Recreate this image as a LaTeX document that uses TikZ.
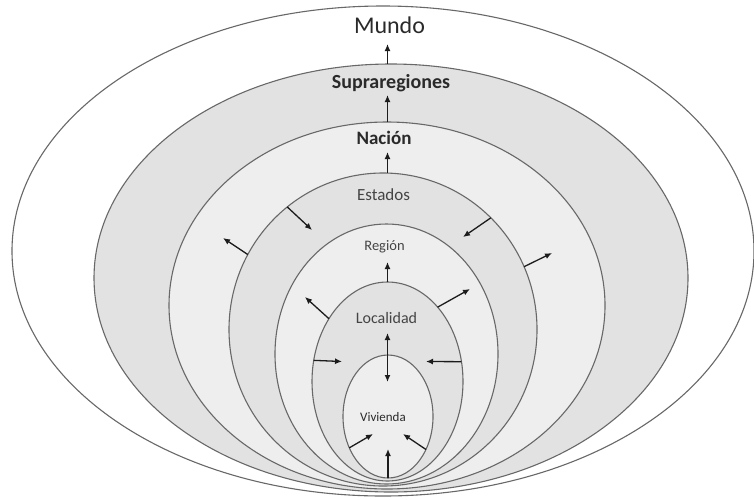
\documentclass[tikz,border=0pt]{standalone}
\usepackage{fontspec}
\setmainfont{Carlito}
\usetikzlibrary{shapes.geometric,arrows.meta}
\definecolor{ringline}{HTML}{686868}
\definecolor{bandA}{HTML}{E2E2E2}
\definecolor{bandB}{HTML}{EEEEEE}
\definecolor{ink}{HTML}{1C1C1C}
\definecolor{labdark}{HTML}{2A2A2A}
\definecolor{labgray}{HTML}{444444}

\begin{document}
\begin{tikzpicture}[x=1pt,y=-1pt,
  ring/.style={ellipse, draw=ringline, line width=1.1pt, inner sep=0pt, outer sep=0pt},
  lab/.style={inner sep=0pt, anchor=base},
  flow/.style={draw=ink, line width=1.3pt, -{Latex[length=7pt,width=6pt]}},
  flowboth/.style={draw=ink, line width=1.5pt, {Latex[length=7pt,width=6pt]}-{Latex[length=7pt,width=6pt]}}
]
\useasboundingbox (0,0) rectangle (754,499);
\fill[white] (0,0) rectangle (754,499);

% nested levels, outermost first
\node[ring, fill=white, minimum width=742pt, minimum height=490pt] (mundo) at (383,251) {};
\node[ring, fill=bandA, minimum width=594pt, minimum height=428pt] (supra) at (391,278) {};
\node[ring, fill=bandB, minimum width=436pt, minimum height=367pt] (nacion) at (387,305.5) {};
\node[ring, fill=bandA, minimum width=308pt, minimum height=313pt] (estados) at (383,329.5) {};
\node[ring, fill=bandB, minimum width=223pt, minimum height=260pt] (region) at (386.5,354) {};
\node[ring, fill=bandA, minimum width=151pt, minimum height=199pt] (localidad) at (387.5,381.5) {};
\node[ring, fill=bandB, minimum width=90pt, minimum height=123pt] (vivienda) at (388,416.5) {};

% level names
\node[lab, text=labdark] (tMundo) at (389.5,33.3) {\fontsize{24}{24}\selectfont Mundo};
\node[lab, text=labdark] (tSupra) at (391,88) {\fontsize{20}{20}\selectfont\bfseries Supraregiones};
\node[lab, text=labdark] (tNacion) at (384,144.3) {\fontsize{19}{19}\selectfont\bfseries Nación};
\node[lab, text=labgray] (tEstados) at (383.5,200) {\fontsize{17}{17}\selectfont Estados};
\node[lab, text=labgray] (tRegion) at (384.5,250) {\fontsize{14.5}{14.5}\selectfont Región};
\node[lab, text=labgray] (tLocalidad) at (386.5,323.3) {\fontsize{16}{16}\selectfont Localidad};
\node[lab, text=labdark] (tVivienda) at (383,421.7) {\fontsize{13}{13}\selectfont Vivienda};

% arrow tips
\coordinate (aMundo) at (387.5,44);
\coordinate (aSupra) at (387.5,95);
\coordinate (aNacion) at (387.5,152);
\coordinate (aRegion) at (387.5,262);
\coordinate (eInL) at (312,230);
\coordinate (eInR) at (463,237);
\coordinate (eOutL) at (223,238);
\coordinate (eOutR) at (552,253);
\coordinate (lOutL) at (305,297);
\coordinate (lOutR) at (470,289);
\coordinate (lInL) at (342,361.5);
\coordinate (lInR) at (426,361.5);
\coordinate (dTop) at (387.5,333);
\coordinate (dBot) at (387.5,382);
\coordinate (vInL) at (373,434);
\coordinate (vInR) at (403,434);
\coordinate (vUp) at (388,449);

% upward growth from each level to the next
\draw[flow] (supra.north -| aMundo) -- (aMundo);
\draw[flow] (nacion.north -| aSupra) -- (aSupra);
\draw[flow] (estados.north -| aNacion) -- (aNacion);
\draw[flow] (localidad.north -| aRegion) -- (aRegion);

% exchanges across the state boundary
\draw[flow] (estados.128) -- (eInL);
\draw[flow] (estados.46) -- (eInR);
\draw[flow] (estados.151) -- (eOutL);
\draw[flow] (estados.24.4) -- (eOutR);

% exchanges across the locality boundary
\draw[flow] (localidad.133.6) -- (lOutL);
\draw[flow] (localidad.56.2) -- (lOutR);
\draw[flow] (localidad.164.8) -- (lInL);
\draw[flow] (localidad.15.2) -- (lInR);
\draw[flowboth] (dTop) -- (dBot);

% inside the dwelling
\draw[flow] (vivienda.219.7) -- (vInL);
\draw[flow] (vivienda.319.5) -- (vInR);
\draw[flow] (vivienda.south) -- (vUp);
\end{tikzpicture}
\end{document}
